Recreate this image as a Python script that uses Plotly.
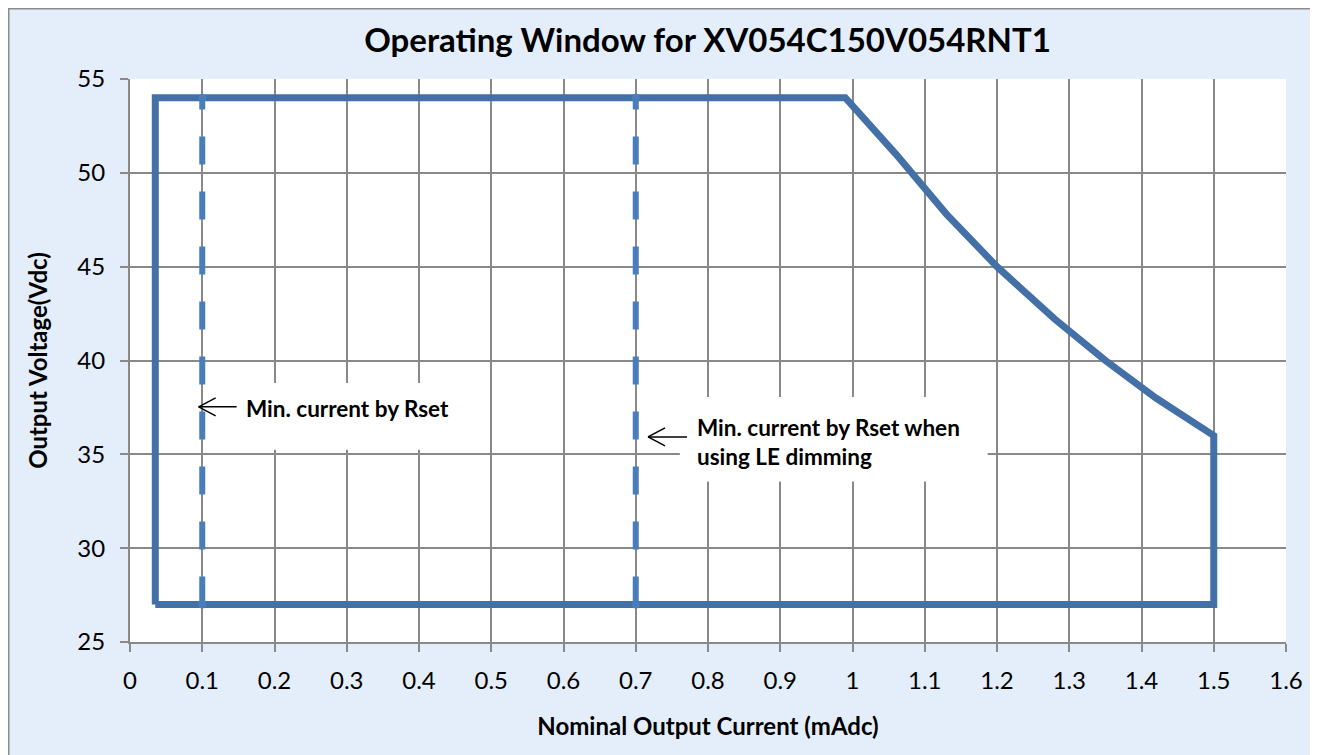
import plotly.graph_objects as go

# ---- data ----
boundary_current = [0.035, 0.035, 0.99, 1.06, 1.13, 1.20, 1.28, 1.35, 1.42, 1.50, 1.50, 0.035]
boundary_voltage = [27, 54, 54, 51, 47.8, 45, 42.2, 40, 38, 36, 27, 27]

min_rset_current = [0.1, 0.1]
min_rset_voltage = [27, 54]
min_le_current = [0.7, 0.7]
min_le_voltage = [27, 54]

x_ticks = [round(i * 0.1, 1) for i in range(17)]
x_tick_labels = ["0", "0.1", "0.2", "0.3", "0.4", "0.5", "0.6", "0.7", "0.8",
                 "0.9", "1", "1.1", "1.2", "1.3", "1.4", "1.5", "1.6"]
y_ticks = [25, 30, 35, 40, 45, 50, 55]

title_text = "Operating Window for XV054C150V054RNT1"
x_title = "Nominal Output Current (mAdc)"
y_title = "Output Voltage(Vdc)"
note1 = "Min. current by Rset"
note2 = "Min. current by Rset when<br>using LE dimming"

FONT = "Lato"
DARK_BLUE = "#4470A8"
LIGHT_BLUE = "#4A7EBB"
GRID = "#898989"

W, H = 1310, 747
ML, MR, MT, MB = 122, 32, 71, 113
PW, PH = W - ML - MR, H - MT - MB

fig = go.Figure()

fig.add_trace(go.Scatter(
    x=boundary_current, y=boundary_voltage, mode="lines",
    line=dict(color=DARK_BLUE, width=7), hoverinfo="skip", showlegend=False))

for xs, ys in [(min_rset_current, min_rset_voltage), (min_le_current, min_le_voltage)]:
    fig.add_trace(go.Scatter(
        x=xs, y=ys, mode="lines+markers",
        line=dict(color=LIGHT_BLUE, width=6, dash="28px,27px"),
        marker=dict(color=LIGHT_BLUE, size=8),
        hoverinfo="skip", showlegend=False))


def open_arrow(tip_x, tip_y, length):
    """Thin open arrow pointing left, anchored at a data point, sized in pixels."""
    base = dict(type="line", xref="x", yref="y", xsizemode="pixel", ysizemode="pixel",
                xanchor=tip_x, yanchor=tip_y, line=dict(color="black", width=1.5),
                layer="above")
    return [
        dict(base, x0=0, y0=0, x1=length, y1=0),
        dict(base, x0=0, y0=0, x1=17, y1=9),
        dict(base, x0=0, y0=0, x1=17, y1=-9),
    ]


shapes = [
    # chart border (right/bottom edges lie outside the visible page)
    dict(type="rect", xref="paper", yref="paper",
         x0=-(ML - 0.5) / PW, x1=1 + (MR + 30) / PW, y0=-(MB + 30) / PH, y1=1 + (MT - 0.5) / PH,
         fillcolor="rgba(0,0,0,0)", line=dict(color="#8C8C8C", width=2), layer="below"),
    # white boxes behind annotations (hide gridlines)
    dict(type="rect", xref="x", yref="y", x0=0.115, x1=0.457, y0=35.25, y1=38.8,
         fillcolor="white", line=dict(width=0), layer="between"),
    dict(type="rect", xref="x", yref="y", x0=0.761, x1=1.187, y0=33.55, y1=38.05,
         fillcolor="white", line=dict(width=0), layer="between"),
]
shapes += open_arrow(0.095, 37.53, 38)
shapes += open_arrow(0.717, 35.93, 39)

annotations = [
    dict(x=0.158, y=37.45, xref="x", yref="y", text="<b>" + note1 + "</b>", showarrow=False,
         xanchor="left", yanchor="middle", align="left",
         font=dict(family=FONT, size=22.5, color="black")),
    dict(x=0.782, y=35.68, xref="x", yref="y", text="<b>" + note2 + "</b>", showarrow=False,
         xanchor="left", yanchor="middle", align="left",
         font=dict(family=FONT, size=22.5, color="black")),
]

fig.update_layout(
    width=W, height=H,
    margin=dict(l=ML, r=MR, t=MT, b=MB),
    paper_bgcolor="#E4EEFA",
    plot_bgcolor="white",
    title=dict(text="<b>" + title_text + "</b>", x=0.534, xanchor="center", y=0.957,
               yanchor="middle", font=dict(family=FONT, size=33, color="black")),
    shapes=shapes,
    annotations=annotations,
    showlegend=False,
    font=dict(family=FONT, color="black"),
)

fig.update_xaxes(
    range=[0, 1.6], tickvals=x_ticks, ticktext=x_tick_labels,
    showgrid=True, gridcolor=GRID, gridwidth=2,
    showline=True, linecolor=GRID, linewidth=2,
    ticks="outside", ticklen=8, tickwidth=2, tickcolor=GRID,
    tickfont=dict(family=FONT, size=24, color="black"), ticklabelstandoff=8,
    title=dict(text="<b>" + x_title + "</b>", font=dict(family=FONT, size=24, color="black"),
               standoff=25),
    zeroline=False, mirror=False,
)
fig.update_yaxes(
    range=[25, 55], tickvals=y_ticks,
    showgrid=True, gridcolor=GRID, gridwidth=2,
    showline=True, linecolor=GRID, linewidth=2,
    ticks="outside", ticklen=8, tickwidth=2, tickcolor=GRID,
    tickfont=dict(family=FONT, size=24, color="black"), ticklabelstandoff=10,
    title=dict(text="<b>" + y_title + "</b>", font=dict(family=FONT, size=24, color="black"),
               standoff=23),
    zeroline=False,
)

fig.write_html("out.html")
